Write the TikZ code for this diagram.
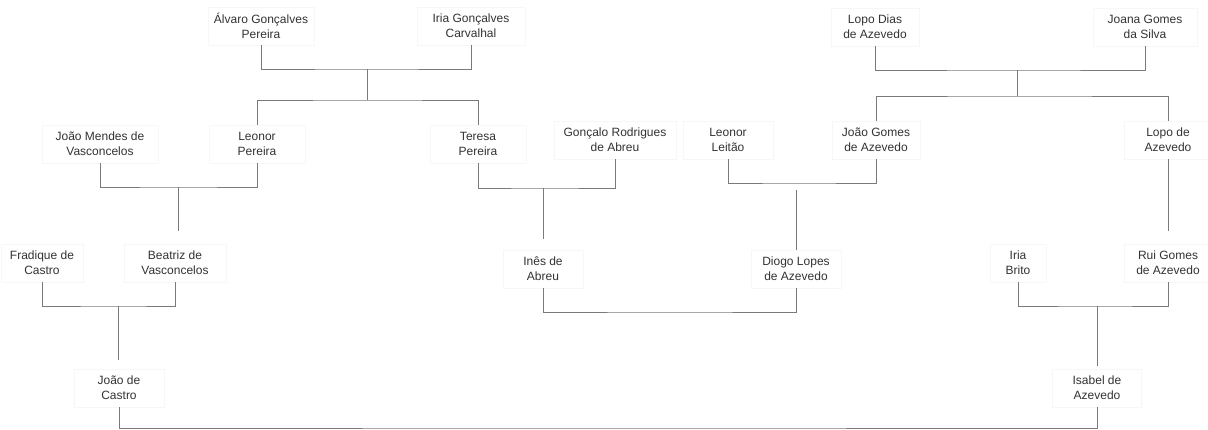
\documentclass[tikz,border=0pt]{standalone}
\usepackage{fontspec}
\setmainfont{Liberation Sans}
\begin{document}
\begin{tikzpicture}[x=1pt,y=-1pt,
  person/.style={draw=black!3, fill=white, text=black!80, font=\fontsize{12}{15}\selectfont,
    align=center, inner xsep=4pt, inner ysep=2pt, minimum height=38pt},
  link/.style={draw=black!52, line width=0.9pt}]
\useasboundingbox[fill=white] (0,0) rectangle (1208,430);
% generation 1
\node[person, minimum width=106pt] (alvaro) at (261,26) {Álvaro Gonçalves\\Pereira};
\node[person, minimum width=108pt] (iria1) at (471,26) {Iria Gonçalves\\Carvalhal};
\node[person, minimum width=88pt] (lopoDias) at (875,27) {Lopo Dias\\de Azevedo};
\node[person, minimum width=104pt] (joana) at (1145,27) {Joana Gomes\\da Silva};
% generation 2
\node[person, minimum width=116pt] (joaoMendes) at (100,144) {João Mendes de\\Vasconcelos};
\node[person, minimum width=96pt] (leonorP) at (257,144) {Leonor\\Pereira};
\node[person, minimum width=96pt] (teresa) at (478,144) {Teresa\\Pereira};
\node[person, minimum width=122pt] (goncalo) at (615,140) {Gonçalo Rodrigues\\de Abreu};
\node[person, minimum width=90pt] (leonorL) at (728,140) {Leonor\\Leitão};
\node[person, minimum width=88pt] (joaoGomes) at (876,140) {João Gomes\\de Azevedo};
\node[person, minimum width=88pt] (lopoAz) at (1168,140) {Lopo de\\Azevedo};
% generation 3
\node[person, minimum width=82pt] (fradique) at (42,263) {Fradique de\\Castro};
\node[person, minimum width=102pt] (beatriz) at (175,263) {Beatriz de\\Vasconcelos};
\node[person, minimum width=80pt] (ines) at (543,269) {Inês de\\Abreu};
\node[person, minimum width=90pt] (diogo) at (796,269) {Diogo Lopes\\de Azevedo};
\node[person, minimum width=56pt] (iriaBrito) at (1018,263) {Iria\\Brito};
\node[person, minimum width=88pt] (rui) at (1168,263) {Rui Gomes\\de Azevedo};
% generation 4
\node[person, minimum width=90pt] (joaoCastro) at (119,388) {João de\\Castro};
\node[person, minimum width=89pt] (isabel) at (1097,388) {Isabel de\\Azevedo};
% junction points
\coordinate (c1) at (367,69);
\coordinate (c2) at (367,100);
\coordinate (c3) at (178,187);
\coordinate (c4) at (543,188);
\coordinate (c5) at (796,183);
\coordinate (c6) at (796,190);
\coordinate (c7) at (1017,70);
\coordinate (c8) at (1017,96);
\coordinate (c9) at (118,306);
\coordinate (c10) at (670,312);
\coordinate (c11) at (1097,306);
\coordinate (c12) at (600,428);
% connectors
\draw[link] (alvaro.south) |- (c1) -| (iria1.south);
\draw[link] (c1) -- (c2);
\draw[link] (leonorP.north) |- (c2) -| (teresa.north);
\draw[link] (lopoDias.south) |- (c7) -| (joana.south);
\draw[link] (c7) -- (c8);
\draw[link] (joaoGomes.north) |- (c8) -| (lopoAz.north);
\draw[link] (joaoMendes.south) |- (c3) -| (leonorP.south);
\draw[link, shorten >=13pt] (c3) -- (c3 |- beatriz.north);
\draw[link] (teresa.south) |- (c4) -| (goncalo.south);
\draw[link, shorten >=11pt] (c4) -- (ines.north);
\draw[link] (leonorL.south) |- (c5) -| (joaoGomes.south);
\draw[link] (c6) -- (diogo.north);
\draw[link, shorten >=13pt] (lopoAz.south) -- (rui.north);
\draw[link] (fradique.south) |- (c9) -| (beatriz.south);
\draw[link, shorten >=9pt] (c9) -- (c9 |- joaoCastro.north);
\draw[link] (ines.south) |- (c10) -| (diogo.south);
\draw[link] (iriaBrito.south) |- (c11) -| (rui.south);
\draw[link, shorten >=3pt] (c11) -- (isabel.north);
\draw[link] (joaoCastro.south) |- (c12) -| (isabel.south);
\end{tikzpicture}
\end{document}
